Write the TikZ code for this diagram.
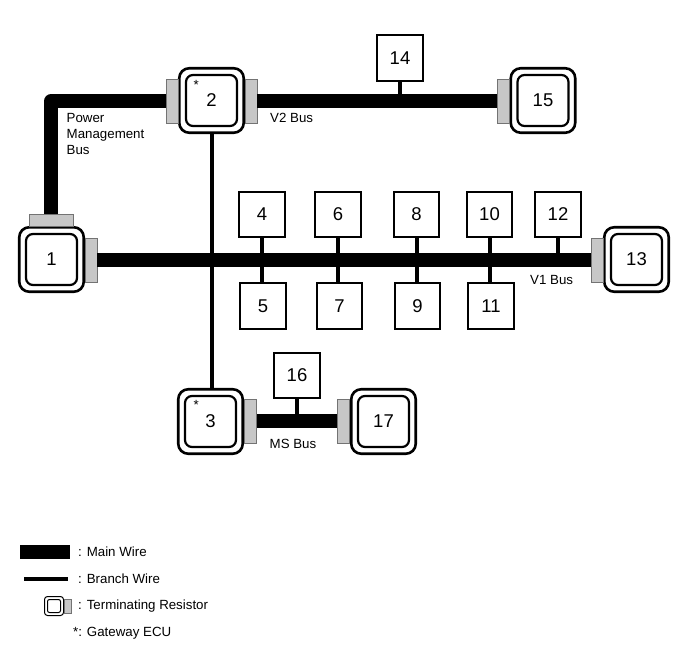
\documentclass[tikz,border=0pt]{standalone}
\usepackage{fontspec}
\setmainfont{Liberation Sans}
\usetikzlibrary{positioning}
\usetikzlibrary{calc}

\tikzset{
  ecu/.style={draw, line width=2.6pt, rounded corners=10pt, fill=white, inner sep=0pt, minimum size=64.5pt},
  ecuin/.style={draw, line width=2.2pt, rounded corners=7pt, inner sep=0pt, minimum size=51pt, font=\fontsize{18.5}{18.5}\selectfont},
  ecubox/.style={draw, line width=2.4pt, fill=white, inner sep=0pt, minimum size=45.5pt, font=\fontsize{18.5}{18.5}\selectfont},
  resv/.style={draw=black!55, line width=0.6pt, fill=black!22, inner sep=0pt, minimum width=12pt, minimum height=44pt},
  resh/.style={draw=black!55, line width=0.6pt, fill=black!22, inner sep=0pt, minimum width=44pt, minimum height=12pt},
  mainwire/.style={line width=13.5pt},
  branchwire/.style={line width=4pt},
  lbl/.style={inner sep=0pt, anchor=west, font=\fontsize{13.3}{16}\selectfont, align=left},
}

\begin{document}
\begin{tikzpicture}[x=1pt, y=-1pt]
  \useasboundingbox (0,0) rectangle (691,660);

  % ECUs
  \foreach \i/\x/\y in {1/51.5/259.5, 2/211.5/100.5, 3/210.5/421.5, 13/636.5/259.5, 15/543/100.5, 17/383.5/421.5} {
        \node[ecu] (e\i) at (\x,\y) {};
        \node[ecuin] (in\i) at (\x,\y) {\i};
  }

  % boxes
  \foreach \i/\x/\y in {4/262/214.5, 5/263/306, 6/338/214.5, 7/339.5/306, 8/416.5/214.5, 9/417.5/306,
        10/489.5/214.5, 11/491/306, 12/558/214.5, 14/400/58, 16/297/375.5} {
        \node[ecubox] (s\i) at (\x,\y) {\i};
  }

  % resistors
  \node[resh] (r1t) at (51,220) {};
  \foreach \name/\x/\y in {1r/91/260, 2l/172/101, 2r/251/101, 3r/250.5/421, 17l/343.5/421, 15l/503/101, 13l/597/260} {
        \node[resv] (r\name) at (\x,\y) {};
  }

  % main wires
  \draw[mainwire, line join=round] (r1t.north) |- (r2l.west);
  \draw[mainwire] (r2r.east) -- (r15l.west);
  \draw[mainwire] (r1r.east) -- (r13l.west);
  \draw[mainwire] (r3r.east) -- (r17l.west);

  % branch wires
  \draw[branchwire] (e2.south) -- (e2.south |- e3.north);
  \foreach \source/\dest in {4/5, 6/7, 8/9, 10/11} {
        \draw[branchwire] (s\source.south) -- (s\source.south |- s\dest.north);
  }
  \draw[branchwire] (s12.south) -- (s12.south |- r13l.west);
  \draw[branchwire] (s14.south) -- (s14.south |- r15l.west);
  \draw[branchwire] (s16.south) -- (s16.south |- r17l.west);

  % labels
  \node[lbl] (pmbus) at (66.5,134) {Power\\Management\\Bus};
  \node[lbl] (v2bus) at (270,118) {V2 Bus};
  \node[lbl] (v1bus) at (530,280) {V1 Bus};
  \node[lbl] (msbus) at (269.5,444) {MS Bus};
  \node[lbl] (star2) at (193.5,85) {*};
  \node[lbl] (star3) at (193.5,405) {*};

  % legend
  \node[fill=black, inner sep=0pt, minimum width=50pt, minimum height=14pt] (lgmain) at (45,552) {};
  \coordinate (lgbl) at (24,579);
  \coordinate (lgbr) at (68,579);
  \draw[branchwire] (lgbl) -- (lgbr);
  \node[draw, line width=1pt, rounded corners=3pt, inner sep=0pt, minimum size=19pt] (lgecu) at (54,606) {};
  \node[draw, line width=1pt, rounded corners=2pt, inner sep=0pt, minimum size=13pt] (lgin) at (54,606) {};
  \node[draw=black!55, line width=0.4pt, fill=black!22, inner sep=0pt, minimum width=7pt, minimum height=14pt, right=0pt of lgecu] (lgres) {};

  \node[lbl] (lgt1) at (78,552) {: Main Wire};
  \node[lbl] (lgt2) at (78,579) {: Branch Wire};
  \node[lbl] (lgt3) at (78,606) {: Terminating Resistor};
  \node[lbl] (lgt4) at (73,633.5) {*: Gateway ECU};
\end{tikzpicture}
\end{document}
